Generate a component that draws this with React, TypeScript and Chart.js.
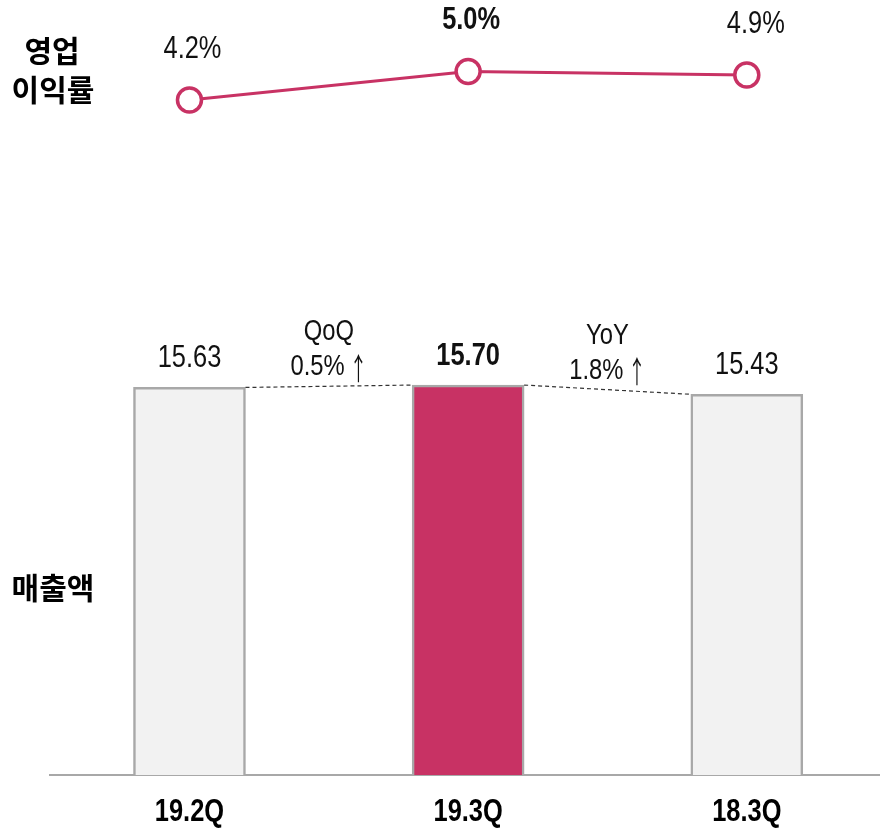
import React, { useEffect, useRef } from 'react';
import { Chart, registerables } from 'chart.js';

Chart.register(...registerables);

// ---- data ----
const categories = ['19.2Q', '19.3Q', '18.3Q'];
const salesValues = [15.63, 15.7, 15.43];
const salesLabels = ['15.63', '15.70', '15.43'];
const marginValues = [4.2, 5.0, 4.9];
const marginLabels = ['4.2%', '5.0%', '4.9%'];
const changeTitles = ['QoQ', 'YoY'];
const changeValues = ['0.5%', '1.8%'];
const changeArrow = '↑';
const highlightIndex = 1;
const marginTitle = ['영업', '이익률'];
const salesTitle = '매출액';

// ---- style ----
const SANS = '"Liberation Sans", Arial, sans-serif';
const KR = '"Noto Sans CJK KR", "Noto Sans", sans-serif';
const PINK = '#c83264';
const BAR_LIGHT = '#f2f2f2';
const BORDER_GREY = '#a8a8a8';
const NARROW_SCALE = 0.82;
const MARGIN_LABEL_DX = [3, 3, 9];

function narrowText(ctx: CanvasRenderingContext2D, text: string, x: number, y: number, size: number, bold: boolean) {
  ctx.save();
  ctx.font = `${bold ? 'bold ' : ''}${size}px ${SANS}`;
  ctx.textAlign = 'center';
  ctx.textBaseline = 'middle';
  ctx.translate(x, y);
  ctx.scale(NARROW_SCALE, 1);
  ctx.fillText(text, 0, 0);
  ctx.restore();
}

function textWithArrow(ctx: CanvasRenderingContext2D, text: string, arrow: string, x: number, y: number, size: number) {
  ctx.save();
  ctx.font = `${size}px ${SANS}`;
  const w1 = ctx.measureText(text).width * NARROW_SCALE;
  ctx.font = `${size}px ${KR}`;
  const w2 = ctx.measureText(arrow).width * 0.6;
  const gap = 5;
  const total = w1 + gap + w2;
  const left = x - total / 2;
  ctx.textBaseline = 'middle';
  ctx.textAlign = 'left';
  ctx.save();
  ctx.translate(left, y);
  ctx.scale(NARROW_SCALE, 1);
  ctx.font = `${size}px ${SANS}`;
  ctx.fillText(text, 0, 0);
  ctx.restore();
  ctx.save();
  ctx.translate(left + w1 + gap, y + 1);
  ctx.scale(0.6, 1.05);
  ctx.font = `${size}px ${KR}`;
  ctx.fillText(arrow, 0, 0);
  ctx.restore();
  ctx.restore();
}

const overlayPlugin = {
  id: 'overlay',
  afterDatasetsDraw(chart: any) {
    const ctx = chart.ctx as CanvasRenderingContext2D;
    const bars = chart.getDatasetMeta(0).data;
    const pts = chart.getDatasetMeta(1).data;
    const xScale = chart.scales.x;
    ctx.save();

    // dashed connectors between bar tops
    ctx.setLineDash([4, 3]);
    ctx.strokeStyle = '#333';
    ctx.lineWidth = 1.2;
    for (let i = 0; i < bars.length - 1; i++) {
      const a = bars[i].getProps(['x', 'y', 'width'], true);
      const b = bars[i + 1].getProps(['x', 'y', 'width'], true);
      ctx.beginPath();
      ctx.moveTo(a.x + a.width / 2, a.y);
      ctx.lineTo(b.x - b.width / 2, b.y);
      ctx.stroke();
    }
    ctx.setLineDash([]);
    ctx.fillStyle = '#111';

    // change annotations
    for (let i = 0; i < bars.length - 1; i++) {
      const a = bars[i].getProps(['x', 'y', 'width'], true);
      const b = bars[i + 1].getProps(['x', 'y', 'width'], true);
      const mx = (a.x + a.width / 2 + b.x - b.width / 2) / 2;
      const my = (a.y + b.y) / 2;
      narrowText(ctx, changeTitles[i], mx, my - 54, 29, false);
      textWithArrow(ctx, changeValues[i], changeArrow, mx, my - 19, 29);
    }

    // bar value labels
    bars.forEach((el: any, i: number) => {
      const p = el.getProps(['x', 'y'], true);
      narrowText(ctx, salesLabels[i], p.x, p.y - 29, 31, i === highlightIndex);
    });

    // line value labels
    pts.forEach((el: any, i: number) => {
      const p = el.getProps(['x', 'y'], true);
      narrowText(ctx, marginLabels[i], p.x + MARGIN_LABEL_DX[i], p.y - 51, 31, i === highlightIndex);
    });

    // category labels under the axis
    ctx.fillStyle = '#000';
    categories.forEach((c, i) => {
      narrowText(ctx, c, xScale.getPixelForValue(i), xScale.top + 37, 31, true);
    });

    // side titles
    ctx.font = `bold 30px ${KR}`;
    ctx.textAlign = 'center';
    ctx.textBaseline = 'middle';
    ctx.fillText(marginTitle[0], 52, 51);
    ctx.fillText(marginTitle[1], 53, 90);
    ctx.fillText(salesTitle, 53, 588);

    ctx.restore();
  },
};

export default function App() {
  const ref = useRef<HTMLCanvasElement | null>(null);

  useEffect(() => {
    if (!ref.current) return;
    const chart = new Chart(ref.current, {
      type: 'bar',
      data: {
        datasets: [
          {
            type: 'bar',
            data: salesValues.map((v, i) => ({ x: i, y: v })),
            backgroundColor: salesValues.map((_, i) => (i === highlightIndex ? PINK : BAR_LIGHT)),
            borderColor: BORDER_GREY,
            borderWidth: 2.5,
            barThickness: 112,
            yAxisID: 'y',
            order: 2,
          } as any,
          {
            type: 'line',
            data: marginValues.map((v, i) => ({ x: i, y: v })),
            borderColor: PINK,
            borderWidth: 3,
            pointRadius: 12,
            pointBorderWidth: 3.5,
            pointBackgroundColor: '#ffffff',
            pointBorderColor: PINK,
            yAxisID: 'y2',
            order: 1,
          } as any,
        ],
      },
      options: {
        animation: false,
        responsive: false,
        devicePixelRatio: 1,
        layout: { padding: { left: 50, right: 0, top: 0, bottom: 0 }, autoPadding: false },
        plugins: { legend: { display: false }, tooltip: { enabled: false } },
        scales: {
          x: {
            type: 'linear',
            offset: false,
            min: -0.5005,
            max: 2.478,
            grid: { display: false, drawTicks: false, offset: false },
            border: { display: true, color: BORDER_GREY, width: 2 },
            ticks: { display: false },
            afterBuildTicks: (s: any) => {
              s.ticks = categories.map((_, i) => ({ value: i }));
            },
            afterFit: (s: any) => {
              s.height = 56;
            },
          } as any,
          y: { display: false, min: 4.331, max: 26.926 },
          y2: { display: false, min: -14.652, max: 6.996 },
        },
      },
      plugins: [overlayPlugin],
    } as any);
    return () => chart.destroy();
  }, []);

  return (
    <div style={{ position: 'fixed', left: 0, top: 0, width: 880, height: 831, background: '#fff' }}>
      <canvas ref={ref} width={880} height={831} style={{ display: 'block' }} />
    </div>
  );
}
